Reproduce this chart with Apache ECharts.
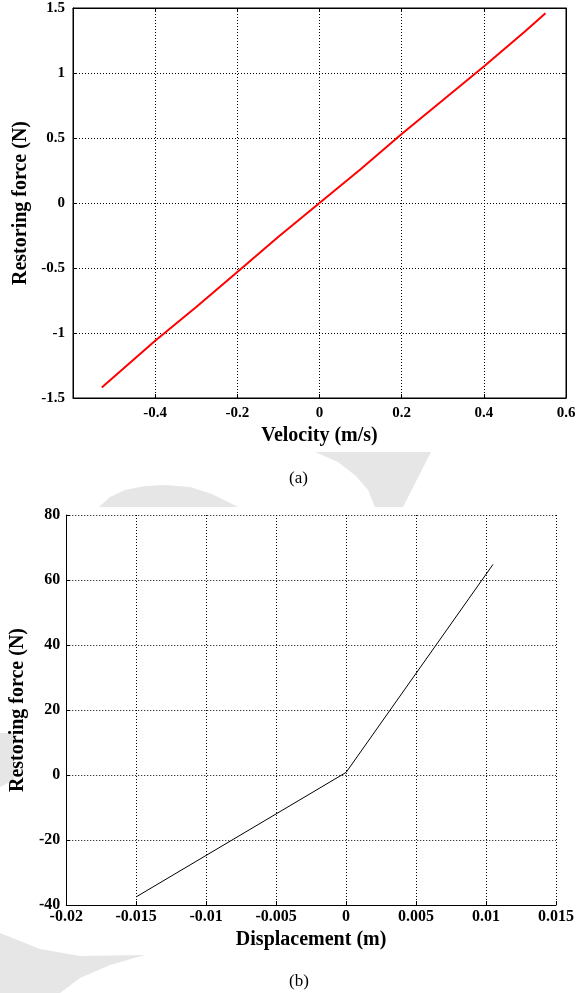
<!DOCTYPE html>
<html>
<head>
<meta charset="utf-8">
<script src="https://cdn.jsdelivr.net/npm/echarts@6/dist/echarts.min.js"></script>
<style>
html,body{margin:0;padding:0;background:#fff;}
#c{width:585px;height:993px;}
</style>
</head>
<body>
<div id="c"></div>
<script>
// Chart (a): restoring force vs velocity
const velocityA = [-0.53, -0.4, -0.3, -0.2, -0.1, 0, 0.1, 0.2, 0.3, 0.4, 0.5, 0.55];
const forceA    = [-1.42, -1.06, -0.80, -0.53, -0.26, 0, 0.26, 0.53, 0.79, 1.05, 1.32, 1.46];
// Chart (b): restoring force vs displacement
const dispB  = [-0.015, 0.0, 0.0105];
const forceB = [-37.5, 0.8, 64.8];
const captions = ['(a)', '(b)'];
const xTitles = ['Velocity (m/s)', 'Displacement (m)'];
const yTitle = 'Restoring force (N)';

const serif = '"Liberation Serif", "DejaVu Serif", serif';
const tickFontA = {fontFamily: serif, fontWeight: 'bold', fontSize: 15, color: '#000'};
const tickFontB = {fontFamily: serif, fontWeight: 'bold', fontSize: 16, color: '#000'};
const nameFont = {fontFamily: serif, fontWeight: 'bold', fontSize: 20, color: '#000'};
const dotted = {show: true, lineStyle: {color: '#000', width: 1, type: [1, 2]}};
const solid = {show: true, onZero: false, lineStyle: {color: '#000', width: 1}};
const tickIn = {show: true, inside: true, length: 4, lineStyle: {color: '#000'}};
const wm = {fill: '#e6e6e6'};

// faint background watermark pieces (decoration only)
const wmShapes = [
  [[315,452],[431,452],[403,507],[375,507],[368,490],[356,476],[338,462]],
  [[99,507],[110,497],[125,490],[145,486],[165,485],[190,487],[212,494],[238,507]],
  [[0,733],[14,733],[14,780],[0,787]],
  [[0,933],[40,949],[80,956],[145,955],[110,965],[80,978],[60,993],[0,993]]
];

const chart = echarts.init(document.getElementById('c'), null, {renderer: 'canvas'});
chart.setOption({
  backgroundColor: '#fff',
  animation: false,
  graphic: wmShapes.map(pts => ({type: 'polygon', z: -10, silent: true, shape: {points: pts}, style: wm})),
  title: [
    {text: captions[0], left: 284, top: 465, textStyle: {fontFamily: serif, fontWeight: 'normal', fontSize: 17, color: '#000'}},
    {text: captions[1], left: 284, top: 968, textStyle: {fontFamily: serif, fontWeight: 'normal', fontSize: 17, color: '#000'}}
  ],
  grid: [
    {left: 73, top: 8, width: 493, height: 390, show: true, borderColor: '#000', borderWidth: 1, backgroundColor: 'transparent'},
    {left: 64, top: 515, width: 492, height: 390, show: false}
  ],
  xAxis: [
    {gridIndex: 0, type: 'value', min: -0.6, max: 0.6, interval: 0.2, position: 'bottom',
     name: xTitles[0], nameLocation: 'middle', nameGap: 28, nameTextStyle: nameFont,
     axisLine: solid, axisTick: tickIn, splitLine: dotted,
     axisLabel: Object.assign({showMinLabel: false, margin: 8}, tickFontA)},
    {gridIndex: 0, type: 'value', min: -0.6, max: 0.6, interval: 0.2, position: 'top',
     axisLine: solid, axisTick: tickIn, splitLine: {show: false}, axisLabel: {show: false}},
    {gridIndex: 1, type: 'value', min: -0.02, max: 0.015, interval: 0.005, position: 'bottom',
     name: xTitles[1], nameLocation: 'middle', nameGap: 25, nameTextStyle: nameFont,
     axisLine: solid, axisTick: tickIn, splitLine: dotted,
     axisLabel: Object.assign({margin: 4}, tickFontB)}
  ],
  yAxis: [
    {gridIndex: 0, type: 'value', min: -1.5, max: 1.5, interval: 0.5, position: 'left',
     name: yTitle, nameLocation: 'middle', nameGap: 39, nameTextStyle: nameFont,
     axisLine: solid, axisTick: tickIn, splitLine: dotted,
     axisLabel: Object.assign({margin: 8}, tickFontA)},
    {gridIndex: 0, type: 'value', min: -1.5, max: 1.5, interval: 0.5, position: 'right',
     axisLine: solid, axisTick: tickIn, splitLine: {show: false}, axisLabel: {show: false}},
    {gridIndex: 1, type: 'value', min: -40, max: 80, interval: 20, position: 'left',
     name: yTitle, nameLocation: 'middle', nameGap: 31, nameTextStyle: nameFont,
     axisLine: solid, axisTick: tickIn, splitLine: dotted,
     axisLabel: Object.assign({margin: 6}, tickFontB)}
  ],
  series: [
    {type: 'line', xAxisIndex: 0, yAxisIndex: 0, showSymbol: false, symbol: 'none',
     lineStyle: {color: '#ff0000', width: 2}, data: velocityA.map((v, i) => [v, forceA[i]])},
    {type: 'line', xAxisIndex: 2, yAxisIndex: 2, showSymbol: false, symbol: 'none',
     lineStyle: {color: '#000', width: 1}, data: dispB.map((v, i) => [v, forceB[i]])}
  ]
});
</script>
</body>
</html>
